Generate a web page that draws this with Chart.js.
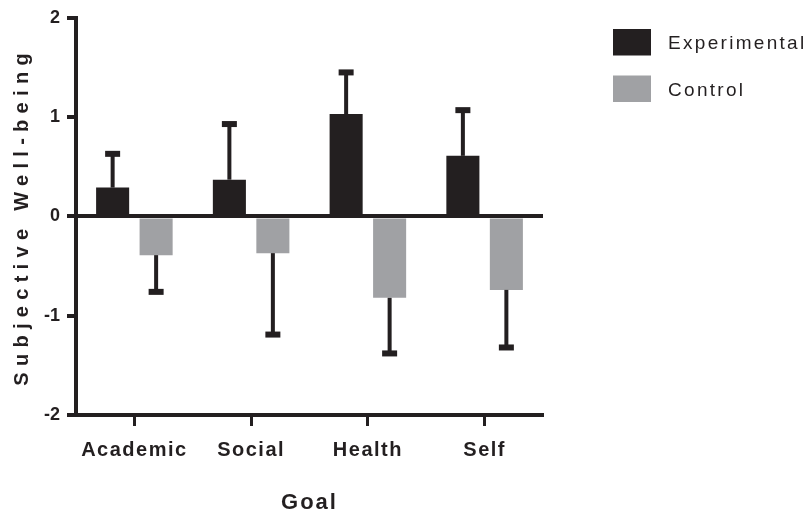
<!DOCTYPE html>
<html>
<head>
<meta charset="utf-8">
<script src="https://cdn.jsdelivr.net/npm/chart.js@4"></script>
<style>
  html, body { margin: 0; padding: 0; background: #fff; }
  #wrap { width: 812px; height: 513px; }
</style>
</head>
<body>
<div id="wrap"><canvas id="chart"></canvas></div>
<script>
const categories = ["Academic", "Social", "Health", "Self"];
const seriesNames = ["Experimental", "Control"];
const experimental = [0.29, 0.37, 1.03, 0.61];
const control = [-0.39, -0.37, -0.82, -0.74];
const experimentalErr = [0.34, 0.56, 0.42, 0.46];
const controlErr = [0.37, 0.82, 0.56, 0.58];
const yTicks = [-2, -1, 0, 1, 2];

const INK = "#231f20";
const GREY = "#a0a1a4";
const FONT = "'Liberation Sans', Arial, sans-serif";

// letter spacing for some texts, canvas supports it but Chart.js has no option
function spaced(scale, name, sp) {
  if (scale["_sp_" + name]) return;
  const orig = scale[name];
  scale["_sp_" + name] = true;
  scale[name] = function (...args) {
    const ctx = this.ctx;
    const old = ctx.letterSpacing;
    ctx.letterSpacing = sp;
    orig.apply(this, args);
    ctx.letterSpacing = old;
  };
}

const spacing = {
  id: "spacing",
  beforeDraw(chart) {
    spaced(chart.scales.x, "drawLabels", "1.5px");
    spaced(chart.scales.x, "drawTitle", "2px");
    spaced(chart.scales.y, "drawTitle", "6.3px");
  },
};

// one-sided error bars, away from zero
const errorBars = {
  id: "errorBars",
  afterDatasetsDraw(chart) {
    const ctx = chart.ctx;
    const y = chart.scales.y;
    const errs = [experimentalErr, controlErr];
    ctx.save();
    ctx.fillStyle = INK;
    chart.data.datasets.forEach((ds, di) => {
      const meta = chart.getDatasetMeta(di);
      meta.data.forEach((bar, i) => {
        const v = ds.data[i];
        const end = v >= 0 ? v + errs[di][i] : v - errs[di][i];
        const y0 = y.getPixelForValue(v);
        const y1 = y.getPixelForValue(end);
        ctx.fillRect(bar.x - 2, Math.min(y0, y1), 4, Math.abs(y1 - y0));
        ctx.fillRect(bar.x - 7.5, y1 - 3, 15, 6);
      });
    });
    ctx.restore();
  },
};

const sideLegend = {
  id: "sideLegend",
  afterDraw(chart) {
    const ctx = chart.ctx;
    ctx.save();
    ctx.font = "19px " + FONT;
    ctx.letterSpacing = "2.3px";
    ctx.textBaseline = "middle";
    chart.data.datasets.forEach((ds, i) => {
      const top = 29 + i * 46.5;
      ctx.fillStyle = ds.backgroundColor;
      ctx.fillRect(613, top, 38, 26.5);
      ctx.fillStyle = INK;
      ctx.fillText(ds.label, 668, top + 15);
    });
    ctx.restore();
  },
};

new Chart(document.getElementById("chart"), {
  type: "bar",
  data: {
    labels: categories,
    datasets: [
      {
        label: seriesNames[0],
        data: experimental,
        backgroundColor: INK,
        borderWidth: 0,
        categoryPercentage: 0.745,
        barPercentage: 0.76,
      },
      {
        label: seriesNames[1],
        data: control,
        backgroundColor: GREY,
        borderWidth: 0,
        categoryPercentage: 0.745,
        barPercentage: 0.76,
      },
    ],
  },
  options: {
    responsive: true,
    maintainAspectRatio: false,
    animation: false,
    layout: {
      padding: { top: 15, right: 269, bottom: 0, left: 0 },
    },
    scales: {
      x: {
        afterFit: (scale) => {
          scale.height = 98;
        },
        grid: {
          offset: false,
          drawOnChartArea: false,
          tickLength: 11,
          tickWidth: 3,
          tickColor: INK,
        },
        border: {
          color: INK,
          width: 4,
        },
        ticks: {
          color: INK,
          maxRotation: 0,
          autoSkip: false,
          padding: 12,
          font: { family: FONT, size: 20, weight: "bold" },
        },
        title: {
          display: true,
          text: "Goal",
          color: INK,
          padding: 0,
          font: { family: FONT, size: 22, weight: "bold", lineHeight: 0.9 },
        },
      },
      y: {
        min: -2,
        max: 2,
        afterFit: (scale) => {
          scale.width = 76;
        },
        afterBuildTicks: (scale) => {
          scale.ticks = yTicks.map((v) => ({ value: v }));
        },
        grid: {
          z: 1,
          color: (c) => (c.tick && c.tick.value === 0 ? INK : "rgba(0,0,0,0)"),
          lineWidth: (c) => (c.tick && c.tick.value === 0 ? 4 : 0),
          tickLength: 9,
          tickWidth: 4,
          tickColor: INK,
        },
        border: {
          z: 2,
          color: INK,
          width: 4,
        },
        ticks: {
          color: INK,
          padding: 7,
          font: { family: FONT, size: 18, weight: "bold" },
        },
        title: {
          display: true,
          text: "Subjective Well-being",
          color: INK,
          padding: { top: 10 },
          font: { family: FONT, size: 20, weight: "bold", lineHeight: 1.2 },
        },
      },
    },
    plugins: {
      legend: { display: false },
      tooltip: { enabled: false },
    },
  },
  plugins: [spacing, errorBars, sideLegend],
});
</script>
</body>
</html>
